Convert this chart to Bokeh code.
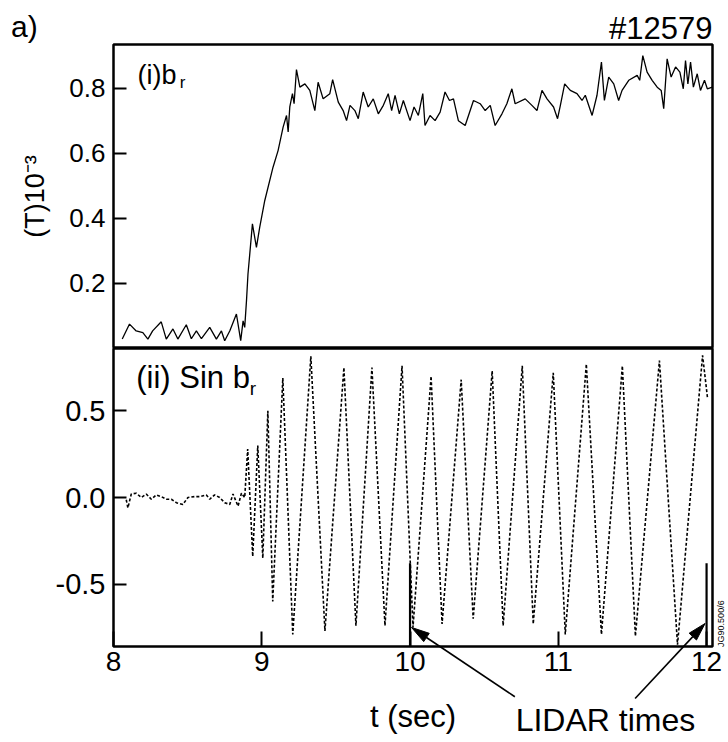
from math import pi, hypot
from bokeh.plotting import figure
from bokeh.layouts import column
from bokeh.models import FixedTicker, Range1d, NumeralTickFormatter
from bokeh.core.properties import value
from bokeh.embed import file_html
from bokeh.resources import INLINE

FONT = "Liberation Sans"

# ---- data ----
t_top = [8.059, 8.108, 8.153, 8.198, 8.232, 8.264, 8.322, 8.356, 8.401, 8.434,
         8.491, 8.525, 8.559, 8.593, 8.649, 8.694, 8.728, 8.750, 8.784, 8.829,
         8.858, 8.874, 8.885, 8.897, 8.907, 8.919, 8.937, 8.964, 8.986, 9.020,
         9.076, 9.110, 9.144, 9.167, 9.178, 9.189, 9.207, 9.218, 9.234, 9.257,
         9.291, 9.324, 9.358, 9.380, 9.414, 9.459, 9.478, 9.516, 9.549, 9.572,
         9.595, 9.628, 9.651, 9.684, 9.718, 9.752, 9.786, 9.820, 9.853, 9.876,
         9.899, 9.928, 9.955, 10.000, 10.027, 10.056,
         10.086, 10.101, 10.135, 10.169, 10.203, 10.236, 10.266, 10.293, 10.326, 10.372,
         10.428, 10.473, 10.507, 10.541, 10.574, 10.620, 10.653, 10.687, 10.709, 10.777,
         10.822, 10.856, 10.890, 10.924, 10.968, 10.995, 11.014, 11.043, 11.081, 11.126,
         11.160, 11.182, 11.228, 11.261, 11.291, 11.311, 11.340, 11.374, 11.407, 11.430,
         11.475, 11.532, 11.549, 11.570, 11.599, 11.633, 11.667, 11.694, 11.711, 11.734,
         11.761, 11.791, 11.820, 11.843, 11.858, 11.874, 11.892, 11.911, 11.937, 11.959,
         11.986, 12.005, 12.039]
b_top = [0.029, 0.075, 0.054, 0.049, 0.029, 0.054, 0.082, 0.029, 0.060, 0.029,
         0.073, 0.030, 0.054, 0.030, 0.065, 0.029, 0.054, 0.024, 0.054, 0.106,
         0.024, 0.085, 0.065, 0.147, 0.229, 0.290, 0.383, 0.311, 0.372, 0.454,
         0.557, 0.608, 0.680, 0.716, 0.665, 0.742, 0.783, 0.752, 0.857, 0.803,
         0.813, 0.793, 0.731, 0.818, 0.767, 0.783, 0.826, 0.757, 0.731, 0.700,
         0.747, 0.731, 0.706, 0.788, 0.742, 0.767, 0.721, 0.747, 0.783, 0.731,
         0.778, 0.721, 0.762, 0.700, 0.742, 0.716,
         0.783, 0.685, 0.716, 0.700, 0.726, 0.788, 0.762, 0.767, 0.700, 0.685,
         0.762, 0.752, 0.731, 0.747, 0.685, 0.721, 0.752, 0.798, 0.752, 0.767,
         0.747, 0.731, 0.793, 0.767, 0.742, 0.706, 0.747, 0.813, 0.793, 0.783,
         0.762, 0.778, 0.716, 0.778, 0.880, 0.762, 0.834, 0.813, 0.762, 0.793,
         0.824, 0.839, 0.824, 0.900, 0.849, 0.824, 0.803, 0.793, 0.737, 0.890,
         0.834, 0.865, 0.849, 0.798, 0.885, 0.813, 0.880, 0.803, 0.844, 0.793,
         0.824, 0.798, 0.803]

t_sin = [8.086, 8.097, 8.120, 8.153, 8.187, 8.221, 8.255, 8.289, 8.322, 8.356,
         8.390, 8.424, 8.468, 8.502, 8.547, 8.581, 8.626, 8.649, 8.682, 8.716,
         8.750, 8.784, 8.806, 8.840, 8.863, 8.885,
         8.905, 8.939, 8.973, 9.007, 9.041, 9.074, 9.142, 9.209, 9.331, 9.426,
         9.554, 9.635, 9.743, 9.831, 9.946, 10.020, 10.142, 10.216, 10.345, 10.426,
         10.554, 10.628, 10.757, 10.831, 10.966, 11.047, 11.189, 11.291, 11.432, 11.520,
         11.682, 11.804, 11.973, 12.007]
b_sin = [-0.013, -0.06, 0.02, 0.025, 0.0, 0.02, -0.01, 0.015, 0.005, -0.01,
         -0.01, -0.03, -0.04, 0.0, 0.005, 0.005, 0.015, -0.01, 0.015, 0.0,
         -0.03, -0.04, 0.02, -0.05, 0.025, 0.0,
         0.28, -0.34, 0.30, -0.35, 0.50, -0.60, 0.69, -0.79, 0.815, -0.77,
         0.75, -0.74, 0.75, -0.74, 0.76, -0.75, 0.70, -0.73, 0.68, -0.70,
         0.73, -0.74, 0.76, -0.73, 0.72, -0.79, 0.77, -0.79, 0.76, -0.80,
         0.79, -0.85, 0.82, 0.57]

lidar_times = [10.0, 12.0]
x_ticks = [8, 9, 10, 11, 12]
top_ticks = [0.2, 0.4, 0.6, 0.8]
bottom_ticks = [-0.5, 0.0, 0.5]

# ---- layout ----
X0, X1 = 8.0, 12.04
FW = 599
xr = Range1d(X0, X1)


def style(p):
    p.grid.grid_line_color = None
    p.outline_line_color = "black"
    p.outline_line_width = 2.5
    p.outline_line_alpha = 1.0
    p.background_fill_color = "white"
    p.border_fill_color = "white"
    for ax in p.yaxis:
        ax.axis_line_color = None
        ax.major_tick_in = 13
        ax.major_tick_out = 0
        ax.major_tick_line_width = 2
        ax.major_tick_line_color = "black"
        ax.minor_tick_line_color = None
        ax.major_label_text_font = FONT
        ax.major_label_text_color = "black"
        ax.major_label_standoff = 8
        ax.formatter = NumeralTickFormatter(format="0.0")


def txt(p, x, y, s, size, align="left", baseline="middle", angle=0.0):
    p.text(x=[x], y=[y], text=[s], text_font=value(FONT), text_font_size=value(size),
           text_align=align, text_baseline=baseline, text_color="black", angle=angle,
           level="overlay")


p1 = figure(frame_width=FW, frame_height=304, min_border_left=113, min_border_right=16,
            min_border_top=44, min_border_bottom=0, x_range=xr, y_range=Range1d(0.0, 0.934),
            x_axis_location=None, output_backend="svg", toolbar_location=None)
style(p1)
p1.yaxis.ticker = FixedTicker(ticks=top_ticks)
p1.yaxis.major_label_text_font_size = "26px"
p1.yaxis.axis_label = "(T)10\u207b\u00b3"
p1.yaxis.axis_label_text_font = FONT
p1.yaxis.axis_label_text_color = "black"
p1.yaxis.axis_label_text_font_style = "normal"
p1.yaxis.axis_label_text_font_size = "27px"
p1.yaxis.axis_label_standoff = 16
p1.line(t_top, b_top, line_color="black", line_width=1.3)

txt(p1, 8.162, 0.840, "(i)b", "27px")
txt(p1, 8.446, 0.816, "r", "17px")
txt(p1, X1, 0.984, "#12579", "31px", align="right")
txt(p1, 7.309, 0.990, "a)", "30px")

YB0, YB1 = -0.86, 0.86
FH2 = 298
p2 = figure(frame_width=FW, frame_height=FH2, min_border_left=113, min_border_right=16,
            min_border_top=0, min_border_bottom=96, x_range=xr, y_range=Range1d(YB0, YB1),
            output_backend="svg", toolbar_location=None)
style(p2)
p2.yaxis.ticker = FixedTicker(ticks=bottom_ticks)
p2.yaxis.major_label_text_font_size = "29px"
xa = p2.xaxis[0]
xa.ticker = FixedTicker(ticks=x_ticks)
xa.axis_line_color = None
xa.major_tick_in = 15
xa.major_tick_out = 0
xa.major_tick_line_width = 2
xa.major_tick_line_color = "black"
xa.minor_tick_line_color = None
xa.major_label_text_font = FONT
xa.major_label_text_color = "black"
xa.major_label_text_font_size = "28px"
xa.major_label_standoff = 5
xa.axis_label = "t (sec)"
xa.axis_label_text_font = FONT
xa.axis_label_text_color = "black"
xa.axis_label_text_font_style = "normal"
xa.axis_label_text_font_size = "31px"
xa.axis_label_standoff = 25

p2.line(t_sin, b_sin, line_color="black", line_width=1.6, line_dash="3 2")
p2.segment(x0=lidar_times, y0=[YB0, YB0], x1=lidar_times, y1=[-0.38, -0.38],
           line_color="black", line_width=2.2)

txt(p2, 8.153, 0.691, "(ii) Sin b", "31px")
txt(p2, 8.919, 0.627, "r", "19px")
txt(p2, 11.318, -1.287, "LIDAR times", "32px", align="center")
txt(p2, 12.10, -0.728, "JG90.500/6", "9px", align="center", angle=pi / 2)

# arrows from the label to the LIDAR lines (shaft + filled head), drawn in pixel-aware geometry
kx = FW / (X1 - X0)
ky = FH2 / (YB1 - YB0)
for xs, ys, xe, ye in [(10.707, -1.15, 10.01, -0.75), (11.518, -1.16, 11.99, -0.727)]:
    dxp, dyp = (xe - xs) * kx, (ye - ys) * ky
    L = hypot(dxp, dyp)
    ux, uy = dxp / L, dyp / L
    hl, hw = 18.0, 5.0
    bx, by = -ux * hl, -uy * hl
    pts = [(0, 0), (bx - uy * hw, by + ux * hw), (bx + uy * hw, by - ux * hw)]
    hx = [xe + px / kx for px, py in pts]
    hy = [ye + py / ky for px, py in pts]
    p2.segment(x0=[xs], y0=[ys], x1=[xe + bx / kx], y1=[ye + by / ky],
               line_color="black", line_width=1.6, level="overlay")
    p2.patch(hx, hy, fill_color="black", line_color="black", line_width=1, level="overlay")

layout = column(p1, p2, spacing=0)
open("out.html", "w").write(file_html(layout, INLINE))
